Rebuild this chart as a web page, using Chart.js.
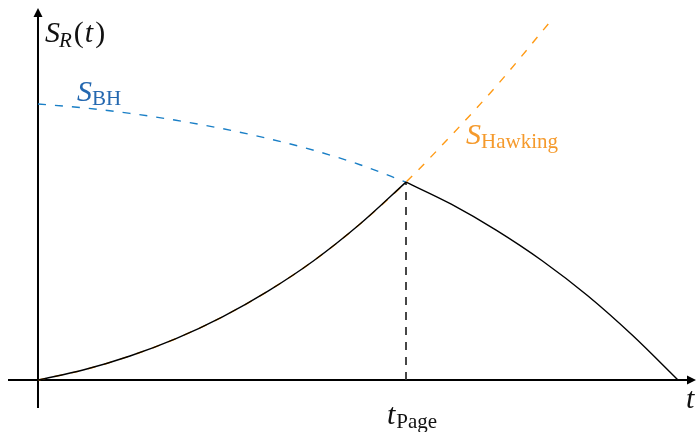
<!DOCTYPE html>
<html>
<head>
<meta charset="utf-8">
<script src="https://cdn.jsdelivr.net/npm/chart.js@4.4.1/dist/chart.umd.min.js"></script>
<style>
  html, body { margin: 0; padding: 0; background: #ffffff; }
  #wrap { width: 697px; height: 432px; position: relative; }
  .probe { position: absolute; left: -9999px; top: 0; font-family: "Liberation Serif"; font-size: 20px; }
</style>
</head>
<body>
<div id="wrap"><canvas id="page" width="697" height="432"></canvas></div>
<span class="probe">Hawking</span><span class="probe" style="font-style:italic">S t</span>
<script>
// Hawking entropy of the radiation (rises through and beyond the Page time)
const hawkingT = [0, 0.125, 0.25, 0.375, 0.5, 0.625, 0.75, 0.875, 1.0, 1.125, 1.25, 1.391];
const hawkingS = [0, 0.037, 0.087, 0.150, 0.228, 0.322, 0.433, 0.565, 0.717, 0.889, 1.072, 1.297];

// Bekenstein-Hawking entropy of the black hole before the Page time
const bhT = [0, 0.125, 0.25, 0.375, 0.5, 0.625, 0.75, 0.875, 1.0];
const bhS = [1.0, 0.986, 0.966, 0.941, 0.911, 0.875, 0.832, 0.780, 0.717];

// Page curve after the Page time, falling to zero at evaporation
const fallT = [1.0, 1.123, 1.246, 1.370, 1.493, 1.616, 1.739];
const fallS = [0.717, 0.637, 0.542, 0.432, 0.306, 0.161, 0];

// Page time and the entropy reached there
const pageT = 1.0;
const pageS = 0.717;

const pts = (xs, ys) => xs.map((x, i) => ({ x: x, y: ys[i] }));
const risePts = pts(hawkingT, hawkingS).filter(p => p.x <= pageT);

const SERIF = '"Liberation Serif", "DejaVu Serif", serif';

// Axes with arrow heads, crossing at the origin
const axesPlugin = {
  id: 'arrowAxes',
  beforeDatasetsDraw(chart) {
    const { ctx, chartArea, scales } = chart;
    const x0 = scales.x.getPixelForValue(0);
    const y0 = scales.y.getPixelForValue(0);
    ctx.save();
    ctx.strokeStyle = '#000';
    ctx.fillStyle = '#000';
    ctx.lineWidth = 2;
    const head = 9, half = 4.5;
    ctx.beginPath();
    ctx.moveTo(chartArea.left, y0);
    ctx.lineTo(chartArea.right - head + 1, y0);
    ctx.stroke();
    ctx.beginPath();
    ctx.moveTo(chartArea.right, y0);
    ctx.lineTo(chartArea.right - head, y0 - half);
    ctx.lineTo(chartArea.right - head, y0 + half);
    ctx.closePath();
    ctx.fill();
    ctx.beginPath();
    ctx.moveTo(x0, chartArea.bottom);
    ctx.lineTo(x0, chartArea.top + head - 1);
    ctx.stroke();
    ctx.beginPath();
    ctx.moveTo(x0, chartArea.top);
    ctx.lineTo(x0 - half, chartArea.top + head);
    ctx.lineTo(x0 + half, chartArea.top + head);
    ctx.closePath();
    ctx.fill();
    ctx.restore();
  }
};

// Draws a symbol with a subscript, piece by piece
function drawParts(ctx, parts, x, y) {
  let cx = x;
  for (const p of parts) {
    ctx.font = (p.italic ? 'italic ' : '') + p.size + 'px ' + SERIF;
    ctx.fillStyle = p.color;
    ctx.fillText(p.text, cx, y + (p.dy || 0));
    cx += ctx.measureText(p.text).width + (p.gap || 0);
  }
}

const labelsPlugin = {
  id: 'mathLabels',
  afterDraw(chart) {
    const { ctx, scales } = chart;
    const X = v => scales.x.getPixelForValue(v);
    const Y = v => scales.y.getPixelForValue(v);
    ctx.save();
    ctx.textBaseline = 'alphabetic';
    ctx.textAlign = 'left';
    const ink = '#111';
    const blue = '#2468b0';
    const orange = '#f59a2c';
    const M = 30, s = 21;

    drawParts(ctx, [
      { text: 'S', italic: true, size: M, color: ink, gap: -1 },
      { text: 'R', italic: true, size: s, color: ink, dy: 5, gap: 2 },
      { text: '(', size: M, color: ink, gap: 1 },
      { text: 't', italic: true, size: M, color: ink, gap: 2 },
      { text: ')', size: M, color: ink }
    ], X(0) + 7, 42);

    drawParts(ctx, [
      { text: 'S', italic: true, size: M, color: blue, gap: 0 },
      { text: 'BH', size: s, color: blue, dy: 4 }
    ], X(0.106), Y(1.0) - 3);

    drawParts(ctx, [
      { text: 'S', italic: true, size: M, color: orange, gap: 0 },
      { text: 'Hawking', size: s, color: orange, dy: 4 }
    ], X(1.163), Y(0.855));

    drawParts(ctx, [
      { text: 't', italic: true, size: M, color: ink, gap: 1 },
      { text: 'Page', size: s, color: ink, dy: 4 }
    ], X(pageT) - 19, 424);

    drawParts(ctx, [
      { text: 't', italic: true, size: M, color: ink }
    ], 686, 408);
    ctx.restore();
  }
};

function build() {
  const curve = { showLine: true, pointRadius: 0, cubicInterpolationMode: 'monotone', borderWidth: 1.4 };
  new Chart(document.getElementById('page'), {
    type: 'scatter',
    data: {
      datasets: [
        Object.assign({ label: 'rise', data: risePts, borderColor: '#000' }, curve),
        Object.assign({ label: 'fall', data: pts(fallT, fallS), borderColor: '#000' }, curve),
        Object.assign({ label: 'S_BH', data: pts(bhT, bhS), borderColor: '#1a7fc6', borderDash: [8, 9] }, curve),
        Object.assign({ label: 'S_Hawking', data: pts(hawkingT, hawkingS), borderColor: '#ff9a14', borderDash: [8, 9] }, curve),
        {
          label: 'page',
          data: [{ x: pageT, y: 0 }, { x: pageT, y: pageS }],
          showLine: true,
          borderColor: '#333',
          borderWidth: 1.8,
          borderDash: [8, 7],
          pointRadius: 0
        }
      ]
    },
    options: {
      responsive: false,
      animation: false,
      devicePixelRatio: 1,
      layout: { padding: { left: 8, right: 1, top: 8, bottom: 24 } },
      plugins: { legend: { display: false }, tooltip: { enabled: false } },
      scales: {
        x: { type: 'linear', min: -0.0815, max: 1.788, display: false },
        y: { type: 'linear', min: -0.1014, max: 1.3478, display: false }
      }
    },
    plugins: [axesPlugin, labelsPlugin]
  });
}

Promise.all([
  document.fonts.load('italic 30px "Liberation Serif"'),
  document.fonts.load('21px "Liberation Serif"')
]).then(build, build);
</script>
</body>
</html>
